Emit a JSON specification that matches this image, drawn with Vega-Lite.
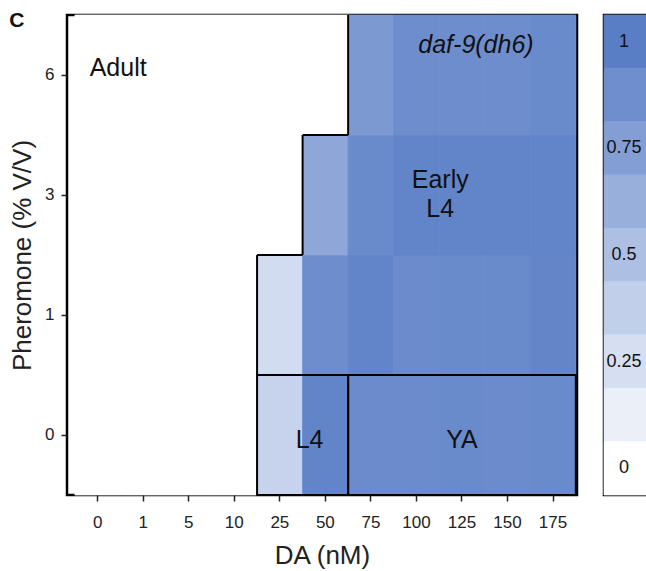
{
  "$schema": "https://vega.github.io/schema/vega-lite/v6.json",
  "background": "white",
  "padding": {"left": 8, "top": 9, "right": 0, "bottom": 0},
  "config": {
    "font": "Liberation Sans",
    "view": {"stroke": "black", "strokeWidth": 2.5},
    "axis": {"domain": false, "grid": false, "tickColor": "#222", "tickSize": 6, "tickWidth": 1.5, "labelColor": "#222", "titleColor": "#222", "labelFontSize": 17, "titleFontSize": 26, "titleFontWeight": "normal", "labelFont": "Liberation Sans", "titleFont": "Liberation Sans"}
  },
  "title": {"text": "C", "anchor": "start", "frame": "bounds", "fontSize": 21, "fontWeight": "bold", "color": "#111", "dx": 1, "dy": 22},
  "datasets": {
    "cells": [
      {"DA": 0, "pheromone": 0, "value": 0}, {"DA": 0, "pheromone": 1, "value": 0}, {"DA": 0, "pheromone": 3, "value": 0}, {"DA": 0, "pheromone": 6, "value": 0},
      {"DA": 1, "pheromone": 0, "value": 0}, {"DA": 1, "pheromone": 1, "value": 0}, {"DA": 1, "pheromone": 3, "value": 0}, {"DA": 1, "pheromone": 6, "value": 0},
      {"DA": 5, "pheromone": 0, "value": 0}, {"DA": 5, "pheromone": 1, "value": 0}, {"DA": 5, "pheromone": 3, "value": 0}, {"DA": 5, "pheromone": 6, "value": 0},
      {"DA": 10, "pheromone": 0, "value": 0}, {"DA": 10, "pheromone": 1, "value": 0}, {"DA": 10, "pheromone": 3, "value": 0}, {"DA": 10, "pheromone": 6, "value": 0},
      {"DA": 25, "pheromone": 0, "value": 0.34}, {"DA": 25, "pheromone": 1, "value": 0.27}, {"DA": 25, "pheromone": 3, "value": 0}, {"DA": 25, "pheromone": 6, "value": 0},
      {"DA": 50, "pheromone": 0, "value": 0.95}, {"DA": 50, "pheromone": 1, "value": 0.88}, {"DA": 50, "pheromone": 3, "value": 0.68}, {"DA": 50, "pheromone": 6, "value": 0},
      {"DA": 75, "pheromone": 0, "value": 0.9}, {"DA": 75, "pheromone": 1, "value": 0.95}, {"DA": 75, "pheromone": 3, "value": 0.91}, {"DA": 75, "pheromone": 6, "value": 0.79},
      {"DA": 100, "pheromone": 0, "value": 0.9}, {"DA": 100, "pheromone": 1, "value": 0.9}, {"DA": 100, "pheromone": 3, "value": 0.95}, {"DA": 100, "pheromone": 6, "value": 0.88},
      {"DA": 125, "pheromone": 0, "value": 0.91}, {"DA": 125, "pheromone": 1, "value": 0.91}, {"DA": 125, "pheromone": 3, "value": 0.95}, {"DA": 125, "pheromone": 6, "value": 0.88},
      {"DA": 150, "pheromone": 0, "value": 0.9}, {"DA": 150, "pheromone": 1, "value": 0.91}, {"DA": 150, "pheromone": 3, "value": 0.95}, {"DA": 150, "pheromone": 6, "value": 0.88},
      {"DA": 175, "pheromone": 0, "value": 0.91}, {"DA": 175, "pheromone": 1, "value": 0.94}, {"DA": 175, "pheromone": 3, "value": 0.95}, {"DA": 175, "pheromone": 6, "value": 0.91}
    ],
    "stages": [
      {"stage": "L4", "DA_from": 25, "DA_to": 50, "pheromone": 0},
      {"stage": "YA", "DA_from": 75, "DA_to": 175, "pheromone": 0}
    ],
    "stairs": [
      {"DA": 25, "pheromone": 1},
      {"DA": 50, "pheromone": 3},
      {"DA": 75, "pheromone": 6}
    ],
    "legend": [
      {"level": 1, "label": "1"}, {"level": 0.875, "label": ""}, {"level": 0.75, "label": "0.75"},
      {"level": 0.625, "label": ""}, {"level": 0.5, "label": "0.5"}, {"level": 0.375, "label": ""},
      {"level": 0.25, "label": "0.25"}, {"level": 0.125, "label": ""}, {"level": 0, "label": "0"}
    ]
  },
  "spacing": 23,
  "hconcat": [
    {
      "width": 510,
      "height": 480,
      "layer": [
        {
          "data": {"name": "cells"},
          "mark": {"type": "rect", "strokeWidth": 0.8},
          "encoding": {
            "x": {"field": "DA", "type": "ordinal", "scale": {"domain": [0, 1, 5, 10, 25, 50, 75, 100, 125, 150, 175], "paddingInner": 0, "paddingOuter": 0.1, "align": 0.87},
                  "axis": {"labelAngle": 0, "title": "DA (nM)", "labelPadding": 13, "titlePadding": 12}},
            "y": {"field": "pheromone", "type": "ordinal", "scale": {"domain": [6, 3, 1, 0], "paddingInner": 0, "paddingOuter": 0},
                  "axis": {"title": "Pheromone (% V/V)", "labelPadding": 7, "titlePadding": 9}},
            "color": {"field": "value", "type": "quantitative", "scale": {"domain": [0, 1], "range": ["#ffffff", "#5a7ec6"], "interpolate": "rgb"}, "legend": null},
            "stroke": {"field": "value", "type": "quantitative", "scale": {"domain": [0, 1], "range": ["#ffffff", "#5a7ec6"], "interpolate": "rgb"}, "legend": null}
          }
        },
        {
          "data": {"name": "stages"},
          "mark": {"type": "rect", "fill": null, "stroke": "black", "strokeWidth": 2},
          "encoding": {
            "x": {"field": "DA_from", "type": "ordinal", "bandPosition": 0},
            "x2": {"field": "DA_to", "bandPosition": 1},
            "y": {"field": "pheromone", "type": "ordinal", "bandPosition": 0},
            "y2": {"field": "pheromone", "bandPosition": 1}
          }
        },
        {
          "data": {"name": "stairs"},
          "mark": {"type": "rule", "color": "black", "strokeWidth": 2},
          "encoding": {
            "x": {"field": "DA", "type": "ordinal", "bandPosition": 0},
            "y": {"field": "pheromone", "type": "ordinal", "bandPosition": 0},
            "y2": {"field": "pheromone", "bandPosition": 1}
          }
        },
        {
          "data": {"name": "stairs"},
          "transform": [{"filter": "datum.DA < 75"}],
          "mark": {"type": "rule", "color": "black", "strokeWidth": 2},
          "encoding": {
            "x": {"field": "DA", "type": "ordinal", "bandPosition": 0},
            "x2": {"field": "DA", "bandPosition": 1},
            "y": {"field": "pheromone", "type": "ordinal", "bandPosition": 0}
          }
        },
        {
          "data": {"values": [{}]},
          "mark": {"type": "text", "text": "Adult", "fontSize": 25, "align": "left", "baseline": "middle", "dx": -8, "dy": -7, "color": "#111"},
          "encoding": {"x": {"datum": 0, "type": "ordinal"}, "y": {"datum": 6, "type": "ordinal"}}
        },
        {
          "data": {"values": [{}]},
          "mark": {"type": "text", "text": "daf-9(dh6)", "fontSize": 25, "fontStyle": "italic", "align": "center", "baseline": "middle", "dx": 14, "dy": -30, "color": "#111"},
          "encoding": {"x": {"datum": 125, "type": "ordinal"}, "y": {"datum": 6, "type": "ordinal"}}
        },
        {
          "data": {"values": [{}]},
          "mark": {"type": "text", "text": ["Early", "L4"], "fontSize": 25, "lineHeight": 29, "align": "center", "baseline": "middle", "dx": 1, "dy": -15, "color": "#111"},
          "encoding": {"x": {"datum": 125, "type": "ordinal", "bandPosition": 0}, "y": {"datum": 3, "type": "ordinal"}}
        },
        {
          "data": {"values": [{}]},
          "mark": {"type": "text", "text": "L4", "fontSize": 25, "align": "center", "baseline": "middle", "dx": 7, "dy": 5, "color": "#111"},
          "encoding": {"x": {"datum": 50, "type": "ordinal", "bandPosition": 0}, "y": {"datum": 0, "type": "ordinal"}}
        },
        {
          "data": {"values": [{}]},
          "mark": {"type": "text", "text": "YA", "fontSize": 25, "align": "center", "baseline": "middle", "dy": 5, "color": "#111"},
          "encoding": {"x": {"datum": 125, "type": "ordinal"}, "y": {"datum": 0, "type": "ordinal"}}
        }
      ]
    },
    {
      "width": 50,
      "height": 480,
      "data": {"name": "legend"},
      "encoding": {
        "y": {"field": "level", "type": "ordinal", "sort": "descending", "axis": null, "scale": {"paddingInner": 0, "paddingOuter": 0}}
      },
      "layer": [
        {
          "mark": {"type": "rect", "strokeWidth": 0.8},
          "encoding": {
            "color": {"field": "level", "type": "quantitative", "scale": {"domain": [0, 1], "range": ["#ffffff", "#5a7ec6"], "interpolate": "rgb"}, "legend": null},
            "stroke": {"field": "level", "type": "quantitative", "scale": {"domain": [0, 1], "range": ["#ffffff", "#5a7ec6"], "interpolate": "rgb"}, "legend": null}
          }
        },
        {
          "mark": {"type": "text", "fontSize": 18, "dx": -5, "color": "#111"},
          "encoding": {"text": {"field": "label"}}
        }
      ]
    }
  ]
}
